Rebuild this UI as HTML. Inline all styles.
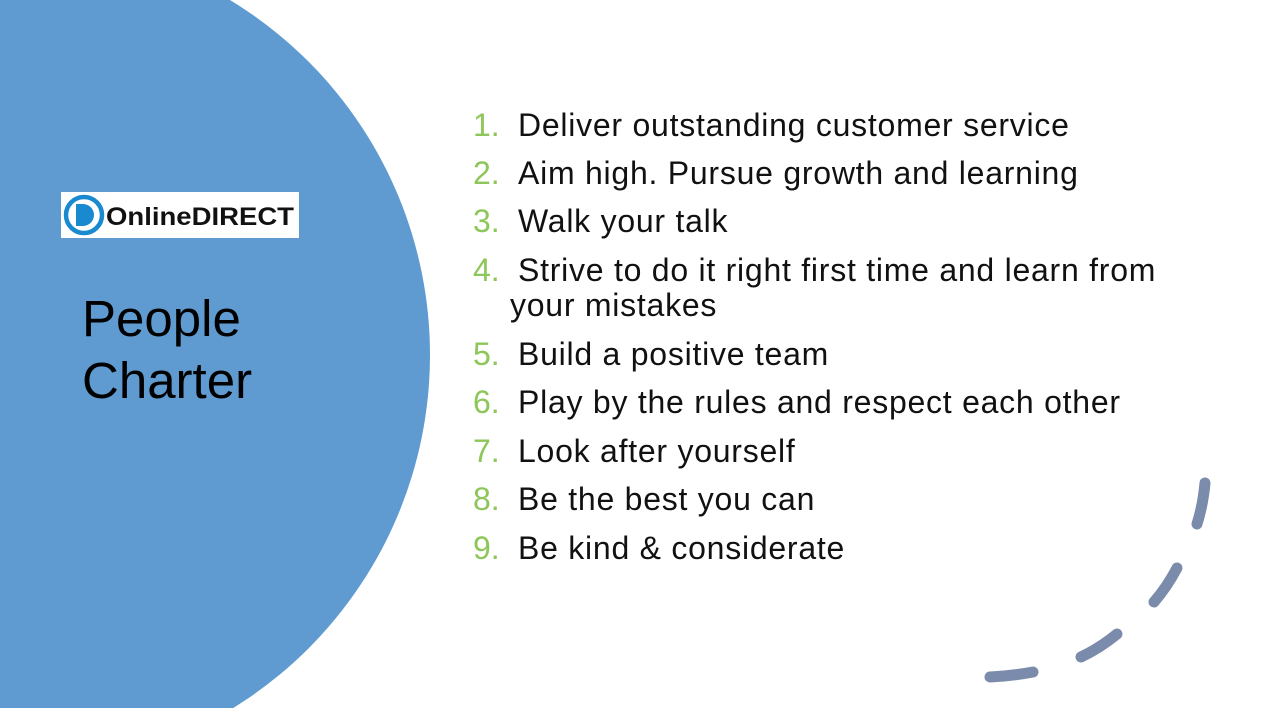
<!DOCTYPE html>
<html style="overflow:hidden"><head><style>
body{margin:0;width:1261px;height:708px;overflow:hidden;background:#fff;position:relative;font-family:"Liberation Sans",sans-serif}
.t{position:absolute;left:0;font-size:32px;line-height:36px;color:#111;white-space:nowrap;letter-spacing:0.75px}
.n{position:absolute;left:473px;color:#8dc65a;letter-spacing:0}
</style></head><body>
<svg width="1261" height="708" style="position:absolute;left:0;top:0">
<circle cx="15" cy="355" r="415" fill="#5f9bd0"/>
<g stroke="#7b8bab" stroke-width="11" stroke-linecap="round" fill="none">
<path d="M1205 483 Q1203 505 1197 524"/>
<path d="M1177 568 Q1167 587 1154 602"/>
<path d="M1117 634 Q1100 648 1081 657"/>
<path d="M1033 672 Q1012 676 990 677"/>
</g>
<rect x="61" y="192" width="238" height="46" fill="#fff"/>
<circle cx="84" cy="215" r="18" fill="none" stroke="#1a8ad0" stroke-width="4.5"/>
<path d="M76 204 h7 a11 11 0 0 1 0 22 h-7 z" fill="#1a8ad0"/>
<text x="106" y="225" font-family="Liberation Sans" font-weight="bold" font-size="25" fill="#111" textLength="188" lengthAdjust="spacingAndGlyphs">Online<tspan font-weight="900">DIRECT</tspan></text>
</svg>
<div style="position:absolute;left:82px;top:288px;font-size:51px;line-height:62px;color:#000">People<br>Charter</div>
<div class="t" style="top:107px"><span class="n">1.</span><span style="position:absolute;left:518px">Deliver outstanding customer service</span></div>
<div class="t" style="top:155px"><span class="n">2.</span><span style="position:absolute;left:518px">Aim high. Pursue growth and learning</span></div>
<div class="t" style="top:203px"><span class="n">3.</span><span style="position:absolute;left:518px">Walk your talk</span></div>
<div class="t" style="top:252px"><span class="n">4.</span><span style="position:absolute;left:518px">Strive to do it right first time and learn from</span></div>
<div class="t" style="top:287px"><span style="position:absolute;left:510px">your mistakes</span></div>
<div class="t" style="top:336px"><span class="n">5.</span><span style="position:absolute;left:518px">Build a positive team</span></div>
<div class="t" style="top:384px"><span class="n">6.</span><span style="position:absolute;left:518px">Play by the rules and respect each other</span></div>
<div class="t" style="top:433px"><span class="n">7.</span><span style="position:absolute;left:518px">Look after yourself</span></div>
<div class="t" style="top:481px"><span class="n">8.</span><span style="position:absolute;left:518px">Be the best you can</span></div>
<div class="t" style="top:530px"><span class="n">9.</span><span style="position:absolute;left:518px">Be kind &amp; considerate</span></div>
</body></html>
